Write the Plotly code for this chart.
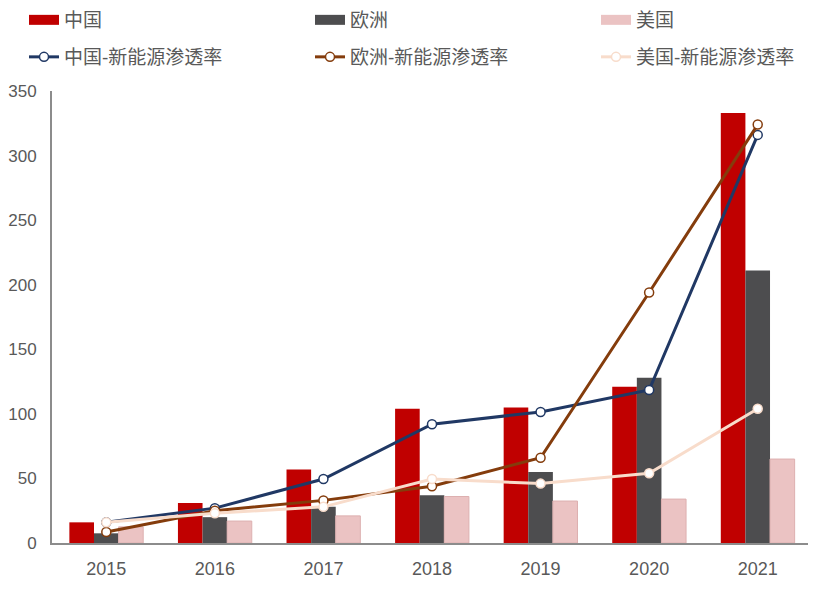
import plotly.graph_objects as go

years = ["2015", "2016", "2017", "2018", "2019", "2020", "2021"]
china_sales = [16, 31, 57, 104, 105, 121, 333]
europe_sales = [7.5, 20, 28, 37, 55, 128, 211]
us_sales = [12.5, 17, 21, 36, 32.5, 34, 65]
china_pen = [16, 27, 49.5, 92, 101.5, 118.5, 316]
europe_pen = [8.5, 25, 33, 44, 66, 194, 324]
us_pen = [16, 23, 28, 49.5, 46, 54, 104]

FONT = "Liberation Sans, Noto Sans CJK SC, sans-serif"
GRAY = "#595959"

# page body has an 8px margin; figure coordinates are compensated for it
W, H = 816, 606
ML, MR, MT, MB = 44, 12, 83, 71
PW, PH = W - ML - MR, H - MT - MB

BAR_COLORS = {"中国": "#C00000", "欧洲": "#4D4D4F", "美国": "#EBC3C3"}

fig = go.Figure()
fig.add_trace(go.Bar(x=years, y=china_sales, name="中国", marker=dict(color=BAR_COLORS["中国"], line=dict(width=0)), showlegend=False))
fig.add_trace(go.Bar(x=years, y=europe_sales, name="欧洲", marker=dict(color=BAR_COLORS["欧洲"], line=dict(width=0)), showlegend=False))
fig.add_trace(go.Bar(x=years, y=us_sales, name="美国", marker=dict(color=BAR_COLORS["美国"], line=dict(width=1, color="#DDB0B0")), showlegend=False))

# legend-only swatches (wide rectangles like the reference)
for name, leg in [("中国", "legend"), ("欧洲", "legend2"), ("美国", "legend3")]:
    fig.add_trace(go.Scatter(x=[None], y=[None], name=name, mode="lines",
                             line=dict(color=BAR_COLORS[name], width=12),
                             legend=leg, showlegend=True, hoverinfo="skip"))

def add_line(vals, name, color, leg):
    fig.add_trace(go.Scatter(
        x=years, y=vals, name=name, mode="lines+markers",
        line=dict(color=color, width=3),
        marker=dict(symbol="circle", size=9, color="white", line=dict(color=color, width=1.5)),
        legend=leg, showlegend=True))

add_line(china_pen, "中国-新能源渗透率", "#203864", "legend4")
add_line(europe_pen, "欧洲-新能源渗透率", "#843C0C", "legend5")
add_line(us_pen, "美国-新能源渗透率", "#F8DCCB", "legend6")

def leg(px_x, px_y):
    return dict(
        visible=True,
        orientation="h", xref="paper", yref="paper",
        x=(px_x - ML) / PW, y=1 + (MT - px_y) / PH,
        xanchor="left", yanchor="middle",
        font=dict(family=FONT, size=19, color=GRAY),
        bgcolor="rgba(0,0,0,0)", itemclick=False, itemdoubleclick=False,
    )

cols = [16, 302, 588]
rows = [12, 49]

fig.update_layout(
    width=W, height=H, showlegend=True,
    margin=dict(l=ML, r=MR, t=MT, b=MB, autoexpand=False),
    paper_bgcolor="white", plot_bgcolor="white",
    barmode="group", bargap=0.32, bargroupgap=0,
    font=dict(family=FONT, size=18, color=GRAY),
    legend=leg(cols[0], rows[0]),
    legend2=leg(cols[1], rows[0]),
    legend3=leg(cols[2], rows[0]),
    legend4=leg(cols[0], rows[1]),
    legend5=leg(cols[1], rows[1]),
    legend6=leg(cols[2], rows[1]),
    xaxis=dict(
        showline=True, linecolor="#8C8C8C", linewidth=2,
        showgrid=False, ticks="", ticklabelstandoff=8,
        tickfont=dict(size=18, color=GRAY),
    ),
    yaxis=dict(
        range=[0, 350], dtick=50, showline=True, linecolor="#8C8C8C", linewidth=2,
        showgrid=False, zeroline=False, ticks="", ticklabelstandoff=10,
        tickfont=dict(size=17, color=GRAY),
    ),
)

fig.write_html("out.html")
